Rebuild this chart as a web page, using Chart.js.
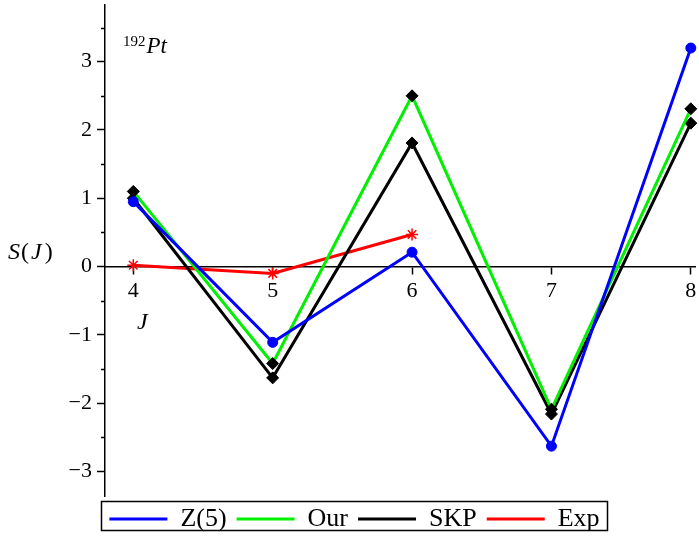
<!DOCTYPE html>
<html>
<head>
<meta charset="utf-8">
<script src="https://cdn.jsdelivr.net/npm/chart.js@4.4.0/dist/chart.umd.min.js"></script>
<style>
  html, body { margin: 0; padding: 0; background: #fff; }
  #wrap { width: 699px; height: 540px; }
</style>
</head>
<body>
<div id="wrap"><canvas id="c"></canvas></div>
<script>
// data
const jValues = [4, 5, 6, 7, 8];
const z5Values = [0.95, -1.11, 0.21, -2.63, 3.20];
const ourValues = [1.10, -1.42, 2.50, -2.09, 2.31];
const skpValues = [1.00, -1.63, 1.81, -2.16, 2.10];
const expJ = [4, 5, 6];
const expValues = [0.02, -0.10, 0.47];
const xTicks = [4, 5, 6, 7, 8];
const yTicks = [-3, -2, -1, 0, 1, 2, 3];

const serif = "'Liberation Serif', 'Times New Roman', Tinos, Times, serif";

function pts(xs, ys) {
  return xs.map((x, i) => ({ x: x, y: ys[i] }));
}

// minor ticks, legend frame and free labels
const extras = {
  id: 'extras',
  afterDraw(chart) {
    const ctx = chart.ctx;
    const ys = chart.scales.y;
    const area = chart.chartArea;
    ctx.save();
    ctx.strokeStyle = '#000';
    ctx.lineWidth = 1.5;
    for (let v = -3.5; v <= 3.5; v += 1) {
      if (v < ys.min || v > ys.max) continue;
      const py = Math.round(ys.getPixelForValue(v)) + 0.5;
      ctx.beginPath();
      ctx.moveTo(area.left - 4, py);
      ctx.lineTo(area.left, py);
      ctx.stroke();
    }

    // legend box
    const hb = chart.legend.legendHitBoxes;
    if (hb && hb.length) {
      let l = Infinity, r = -Infinity, t = Infinity, b = -Infinity;
      hb.forEach(h => {
        l = Math.min(l, h.left); r = Math.max(r, h.left + h.width);
        t = Math.min(t, h.top); b = Math.max(b, h.top + h.height);
      });
      ctx.lineWidth = 1.5;
      ctx.strokeRect(Math.round(l - 8) + 0.5, Math.round(t - 5) + 0.5,
        Math.round(r - l + 16), Math.round(b - t + 3));
    }

    ctx.fillStyle = '#000';
    ctx.textBaseline = 'alphabetic';
    // S(J)
    let x = 8;
    const base = 259;
    ctx.font = 'italic 24px ' + serif;
    ctx.fillText('S', x, base); x += ctx.measureText('S').width + 1;
    ctx.font = '24px ' + serif;
    ctx.fillText('(', x, base); x += ctx.measureText('(').width + 2;
    ctx.font = 'italic 24px ' + serif;
    ctx.fillText('J', x, base); x += ctx.measureText('J').width + 3;
    ctx.font = '24px ' + serif;
    ctx.fillText(')', x, base);

    // J under the axis
    ctx.font = 'italic 24px ' + serif;
    ctx.fillText('J', 137, 329);

    // 192Pt
    ctx.font = '15px ' + serif;
    ctx.fillText('192', 123, 46);
    const w = ctx.measureText('192').width;
    ctx.font = 'italic 23px ' + serif;
    ctx.fillText('Pt', 124 + w, 53);
    ctx.restore();
  }
};

new Chart(document.getElementById('c'), {
  type: 'line',
  data: {
    datasets: [
      {
        label: 'Z(5)',
        data: pts(jValues, z5Values),
        borderColor: '#0000ff',
        backgroundColor: '#0000ff',
        borderWidth: 3,
        pointStyle: 'circle',
        pointRadius: 5,
        pointBackgroundColor: '#0000ff',
        pointBorderColor: '#0000ff',
        pointBorderWidth: 1,
        clip: false
      },
      {
        label: 'Our',
        data: pts(jValues, ourValues),
        borderColor: '#00f000',
        backgroundColor: '#00f000',
        borderWidth: 3,
        pointStyle: 'rectRot',
        pointRadius: 6,
        pointBackgroundColor: '#000',
        pointBorderColor: '#000',
        pointBorderWidth: 1,
        clip: false
      },
      {
        label: 'SKP',
        data: pts(jValues, skpValues),
        borderColor: '#000000',
        backgroundColor: '#000000',
        borderWidth: 3,
        pointStyle: 'rectRot',
        pointRadius: 6,
        pointBackgroundColor: '#000',
        pointBorderColor: '#000',
        pointBorderWidth: 1,
        clip: false
      },
      {
        label: 'Exp',
        data: pts(expJ, expValues),
        borderColor: '#ff0000',
        backgroundColor: '#ff0000',
        borderWidth: 3,
        pointStyle: 'star',
        pointRadius: 6,
        pointBorderColor: '#ff0000',
        pointBorderWidth: 1.5,
        clip: false
      }
    ]
  },
  options: {
    responsive: true,
    maintainAspectRatio: false,
    animation: false,
    layout: { autoPadding: false, padding: { top: 5, right: 4, left: 14, bottom: 0 } },
    plugins: {
      tooltip: { enabled: false },
      legend: {
        position: 'bottom',
        maxHeight: 44,
        labels: {
          boxWidth: 58,
          boxHeight: 3,
          padding: 10,
          color: '#000',
          font: { family: serif, size: 26 },
          generateLabels: chart => chart.data.datasets.map((ds, i) => ({
            text: ds.label,
            fillStyle: ds.borderColor,
            strokeStyle: ds.borderColor,
            lineWidth: 0,
            hidden: false,
            datasetIndex: i,
            fontColor: '#000'
          }))
        }
      }
    },
    scales: {
      x: {
        type: 'linear',
        position: { y: 0 },
        min: 3.797,
        max: 8.03,
        afterBuildTicks: s => { s.ticks = xTicks.map(v => ({ value: v })); },
        afterFit: s => { s.paddingLeft = 0; s.paddingRight = 0; },
        ticks: {
          color: '#000',
          padding: 4,
          font: { family: serif, size: 22 },
          callback: v => String(v)
        },
        grid: {
          drawOnChartArea: false,
          tickLength: 7,
          tickColor: '#000',
          tickWidth: 1.5
        },
        border: { color: '#000', width: 1.5 }
      },
      y: {
        type: 'linear',
        min: -3.36,
        max: 3.83,
        afterBuildTicks: s => { s.ticks = yTicks.map(v => ({ value: v })); },
        afterFit: s => { s.width = 91; s.paddingTop = 0; s.paddingBottom = 0; },
        ticks: {
          color: '#000',
          padding: 5,
          font: { family: serif, size: 22 },
          callback: v => (v < 0 ? '\u2212' + Math.abs(v) : String(v))
        },
        grid: {
          drawOnChartArea: false,
          tickLength: 8,
          tickColor: '#000',
          tickWidth: 1.5
        },
        border: { color: '#000', width: 1.5 }
      }
    }
  },
  plugins: [extras]
});
</script>
</body>
</html>
